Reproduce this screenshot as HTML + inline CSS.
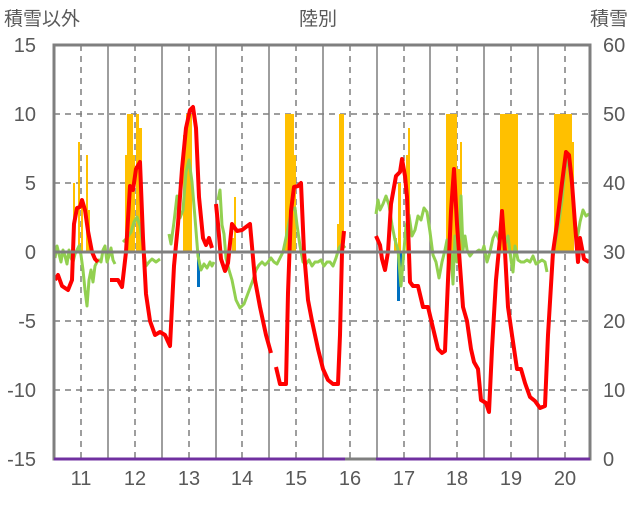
<!DOCTYPE html>
<html><head><meta charset="utf-8"><style>
body{margin:0;background:#fff}
svg text{font-family:"Liberation Sans","Noto Sans CJK JP",sans-serif;fill:#595959}
</style></head><body>
<svg width="636" height="501" viewBox="0 0 636 501">
<text x="4" y="25" font-size="19">積雪以外</text>
<text x="318" y="25" font-size="19" text-anchor="middle">陸別</text>
<text x="590" y="25" font-size="19">積雪</text>
<g font-size="20" text-anchor="end">
<text x="36" y="52">15</text><text x="36" y="121">10</text><text x="36" y="190">5</text><text x="36" y="259">0</text>
<text x="36" y="328">-5</text><text x="36" y="397">-10</text><text x="36" y="466">-15</text>
</g>
<g font-size="20">
<text x="603" y="52">60</text><text x="603" y="121">50</text><text x="603" y="190">40</text><text x="603" y="259">30</text>
<text x="603" y="328">20</text><text x="603" y="397">10</text><text x="603" y="466">0</text>
</g>
<g font-size="20" text-anchor="middle">
<text x="81" y="485">11</text><text x="135" y="485">12</text><text x="189" y="485">13</text><text x="242" y="485">14</text><text x="296" y="485">15</text>
<text x="350" y="485">16</text><text x="404" y="485">17</text><text x="457" y="485">18</text><text x="511" y="485">19</text><text x="565" y="485">20</text>
</g>
<!-- grid -->
<g stroke="#7f7f7f" stroke-width="1.5" stroke-dasharray="6,5">
<line x1="54" y1="114" x2="590" y2="114"/><line x1="54" y1="183" x2="590" y2="183"/>
<line x1="54" y1="321" x2="590" y2="321"/><line x1="54" y1="390" x2="590" y2="390"/>
<line x1="81" y1="45" x2="81" y2="459"/><line x1="135" y1="45" x2="135" y2="459"/><line x1="189" y1="45" x2="189" y2="459"/>
<line x1="242" y1="45" x2="242" y2="459"/><line x1="296" y1="45" x2="296" y2="459"/><line x1="350" y1="45" x2="350" y2="459"/>
<line x1="404" y1="45" x2="404" y2="459"/><line x1="457" y1="45" x2="457" y2="459"/><line x1="511" y1="45" x2="511" y2="459"/>
<line x1="565" y1="45" x2="565" y2="459"/>
</g>
<g stroke="#7f7f7f" stroke-width="1.5">
<line x1="108" y1="45" x2="108" y2="459"/><line x1="162" y1="45" x2="162" y2="459"/><line x1="216" y1="45" x2="216" y2="459"/>
<line x1="269" y1="45" x2="269" y2="459"/><line x1="323" y1="45" x2="323" y2="459"/><line x1="377" y1="45" x2="377" y2="459"/>
<line x1="430" y1="45" x2="430" y2="459"/><line x1="484" y1="45" x2="484" y2="459"/><line x1="538" y1="45" x2="538" y2="459"/>
</g>
<!-- orange bars -->
<g fill="#ffc000">
<rect x="73" y="183" width="2" height="69"/><rect x="78" y="142" width="2" height="110"/><rect x="81" y="204" width="2" height="48"/><rect x="86" y="155" width="2" height="97"/><rect x="88" y="210" width="2" height="42"/>
<rect x="125" y="155" width="3" height="97"/><rect x="127" y="114" width="6" height="138"/><rect x="133" y="155" width="2" height="97"/><rect x="136" y="114" width="3" height="138"/><rect x="139" y="128" width="3" height="124"/>
<rect x="183" y="135" width="3" height="117"/><rect x="186" y="114" width="6" height="138"/>
<rect x="232" y="238" width="2" height="14"/><rect x="234" y="197" width="2" height="55"/>
<rect x="285" y="114" width="9" height="138"/><rect x="294" y="155" width="2" height="97"/>
<rect x="337" y="224" width="2" height="28"/><rect x="339" y="114" width="5" height="138"/>
<rect x="394" y="238" width="3" height="14"/><rect x="398" y="183" width="3" height="69"/><rect x="406" y="155" width="2" height="97"/><rect x="408" y="128" width="2" height="124"/>
<rect x="446" y="114" width="11" height="138"/><rect x="457" y="169" width="3" height="83"/><rect x="460" y="142" width="2" height="110"/>
<rect x="500" y="114" width="18" height="138"/>
<rect x="554" y="114" width="18" height="138"/><rect x="572" y="142" width="2" height="110"/>
</g>
<g fill="#0070c0">
<rect x="197" y="252" width="3" height="35"/><rect x="397" y="252" width="3" height="49"/><rect x="400" y="252" width="2" height="35"/>
</g>
<!-- green -->
<polyline fill="none" stroke="#92d050" stroke-width="3" stroke-linejoin="round" points="55,258 57,246 59,254 61,262 63,250 65,256 67,264 69,250 71,258 73,262 75,254 77,250 79,246 81,255 83,270 85,290 87,306 89,280 91,270 93,282 95,266 97,262 99,260 101,262 103,250 105,246 107,262 109,256 111,248 113,260 115,264"/>
<polyline fill="none" stroke="#92d050" stroke-width="3" stroke-linejoin="round" points="123,242 127,238 131,232 134,222 137,217 140,226 143,246 146,266 149,262 152,259 156,262 160,259"/>
<polyline fill="none" stroke="#92d050" stroke-width="3" stroke-linejoin="round" points="169,234 171,244 174,222 177,196 180,218 183,210 186,172 189,160 192,182 195,218 198,256 201,270 204,264 207,268 210,262 212,266 214,262"/>
<polyline fill="none" stroke="#92d050" stroke-width="3" stroke-linejoin="round" points="218,200 220,190 222,225 224,234 226,258 229,270 232,280 236,300 240,308 244,304 247,296 250,288 253,280 256,270 259,265 262,262 265,265 268,262 271,258 274,262 277,264 280,258 283,252 286,238 289,222 292,210 295,208 297,225 300,246 303,262 306,264 309,260 312,266 315,262 318,262 321,260 324,266 327,262 330,262 333,266 336,258 339,248 342,244 345,248"/>
<polyline fill="none" stroke="#92d050" stroke-width="3" stroke-linejoin="round" points="376,214 378,200 380,210 383,204 386,196 389,205 392,225 395,240 398,250 401,286 403,262 406,226 409,215 412,236 415,230 418,216 421,220 424,208 427,212 430,232 433,255 436,262 439,278 442,262 445,250 447,240 449,270 451,252 453,284 455,236 457,262 459,250 461,196 463,250 465,236 467,250 470,256 473,252 476,252 479,250 482,252 484,246 487,262 490,252 493,238 496,232 499,240 502,230 505,244 508,236 511,260 513,272 515,246 518,260 521,262 524,262 527,260 530,262 533,256 536,264 539,262 542,260 545,262 547,272"/>
<polyline fill="none" stroke="#92d050" stroke-width="3" stroke-linejoin="round" points="553,256 556,238 559,222 562,200 565,168 568,160 571,180 574,212 577,240 580,222 583,210 586,216 589,214"/>
<!-- red -->
<g fill="none" stroke="#ff0000" stroke-width="4" stroke-linejoin="round">
<polyline points="55,280 58,275 62,286 68,290 72,280 74,224 77,208 80,207 82,200 85,210 88,231 92,252 95,259 98,262"/>
<polyline points="110,280 118,280 122,287 126,252 130,186 133,190 136,169 140,162 143,238 146,294 150,321 155,335 160,332 165,335 170,346 174,266 178,224 182,169 186,128 190,110 193,107 196,128 199,197 203,238 206,245 209,238 212,248"/>
<polyline points="216,204 218,224 221,259 225,271 228,263 232,224 237,231 242,230 250,224 255,280 260,307 266,335 271,353"/>
<polyline points="276,367 280,384 286,384 288,293 291,211 294,187 298,186 301,183 304,252 308,300 312,321 318,349 323,369 328,380 333,384 338,384 340,335 342,252 344,231"/>
<polyline points="376,236 380,245 382,259 385,270 388,252 391,204 396,176 400,172 402,159 405,176 407,197 410,282 413,286 418,286 423,307 428,307 433,328 438,349 442,353 445,351 448,280 451,211 454,169 457,224 460,266 463,307 467,321 471,349 474,362 478,369 481,400 486,403 489,412 492,349 496,280 500,238 502,211 505,252 508,307 512,335 517,369 521,369 525,383 530,397 535,401 540,408 545,406 548,335 553,252 557,224 562,183 566,152 569,155 572,183 575,224 578,262 580,238 584,259 589,262"/>
</g>
<!-- axes frame -->
<rect x="54" y="45" width="536" height="414" fill="none" stroke="#7f7f7f" stroke-width="3"/>
<line x1="54" y1="252" x2="590" y2="252" stroke="#7f7f7f" stroke-width="3"/>
<line x1="54" y1="459" x2="345" y2="459" stroke="#7030a0" stroke-width="3"/>
<line x1="376" y1="459" x2="590" y2="459" stroke="#7030a0" stroke-width="3"/>
</svg>
</body></html>
